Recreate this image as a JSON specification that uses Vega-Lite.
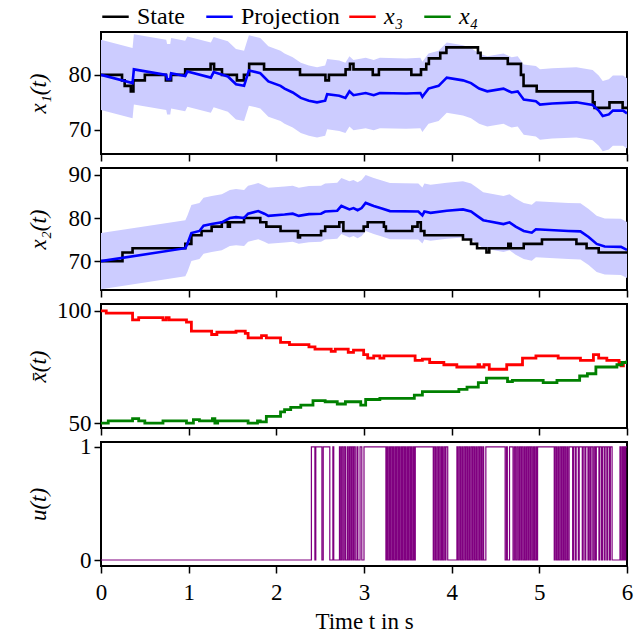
{
  "$schema": "https://vega.github.io/schema/vega-lite/v6.json",
  "padding": {"left": 26, "top": 2, "right": 2, "bottom": 2},
  "config": {
    "view": {"stroke": "black", "strokeWidth": 2},
    "axis": {
      "domain": false, "grid": false, "format": "d",
      "tickColor": "black", "tickWidth": 1.5, "tickSize": 7,
      "labelFontSize": 23, "labelColor": "black", "labelPadding": 3,
      "titleFontSize": 23, "titleFontWeight": "normal", "titleColor": "black"
    },
    "axisX": {"labelFlush": false},
    "legend": {
      "orient": "top", "labelFontSize": 24, "labelColor": "black",
      "symbolType": "stroke", "symbolStrokeWidth": 2.5, "symbolSize": 700,
      "columnPadding": 16, "labelOffset": 7, "offset": 2, "padding": 0
    }
  },
  "datasets": {
    "p1": [
      {"t": 0, "v": 80, "s": "State"}, {"t": 0.24, "v": 79, "s": "State"}, {"t": 0.27, "v": 78, "s": "State"},
      {"t": 0.34, "v": 77, "s": "State"}, {"t": 0.37, "v": 79, "s": "State"}, {"t": 0.5, "v": 80, "s": "State"},
      {"t": 0.74, "v": 79, "s": "State"}, {"t": 0.8, "v": 80, "s": "State"}, {"t": 0.96, "v": 81, "s": "State"},
      {"t": 1.25, "v": 82, "s": "State"}, {"t": 1.29, "v": 81, "s": "State"}, {"t": 1.38, "v": 80, "s": "State"},
      {"t": 1.55, "v": 79, "s": "State"}, {"t": 1.63, "v": 80, "s": "State"}, {"t": 1.69, "v": 82, "s": "State"},
      {"t": 1.86, "v": 81, "s": "State"}, {"t": 2.27, "v": 80, "s": "State"}, {"t": 2.56, "v": 79, "s": "State"},
      {"t": 2.6, "v": 80, "s": "State"}, {"t": 2.79, "v": 81, "s": "State"}, {"t": 2.84, "v": 82, "s": "State"},
      {"t": 2.88, "v": 81, "s": "State"}, {"t": 3.1, "v": 80, "s": "State"}, {"t": 3.17, "v": 81, "s": "State"},
      {"t": 3.54, "v": 80, "s": "State"}, {"t": 3.65, "v": 81, "s": "State"}, {"t": 3.71, "v": 82, "s": "State"},
      {"t": 3.74, "v": 83, "s": "State"}, {"t": 3.87, "v": 84, "s": "State"}, {"t": 3.94, "v": 85, "s": "State"},
      {"t": 4.3, "v": 84, "s": "State"}, {"t": 4.33, "v": 83, "s": "State"}, {"t": 4.64, "v": 82, "s": "State"},
      {"t": 4.79, "v": 80, "s": "State"}, {"t": 4.82, "v": 78, "s": "State"}, {"t": 4.97, "v": 77, "s": "State"},
      {"t": 5.61, "v": 75, "s": "State"}, {"t": 5.63, "v": 74, "s": "State"}, {"t": 5.8, "v": 75, "s": "State"},
      {"t": 5.95, "v": 74, "s": "State"}, {"t": 6.0, "v": 74, "s": "State"},
      {"t": 0, "v": 80.0, "lo": 73.6, "hi": 86.4, "s": "Projection"},
      {"t": 0.36, "v": 78.5, "lo": 72.1, "hi": 84.9, "s": "Projection"},
      {"t": 0.375, "v": 81.0, "lo": 74.6, "hi": 87.4, "s": "Projection"},
      {"t": 0.744, "v": 80.0, "lo": 73.6, "hi": 86.4, "s": "Projection"},
      {"t": 0.754, "v": 79.2, "lo": 72.8, "hi": 85.6, "s": "Projection"},
      {"t": 0.79, "v": 79.2, "lo": 72.8, "hi": 85.6, "s": "Projection"},
      {"t": 0.8, "v": 80.3, "lo": 73.9, "hi": 86.7, "s": "Projection"},
      {"t": 0.96, "v": 79.8, "lo": 73.4, "hi": 86.2, "s": "Projection"},
      {"t": 0.985, "v": 80.6, "lo": 74.2, "hi": 87.0, "s": "Projection"},
      {"t": 1.253, "v": 79.5, "lo": 73.1, "hi": 85.9, "s": "Projection"},
      {"t": 1.285, "v": 80.5, "lo": 74.1, "hi": 86.9, "s": "Projection"},
      {"t": 1.447, "v": 79.7, "lo": 73.3, "hi": 86.1, "s": "Projection"},
      {"t": 1.54, "v": 78.3, "lo": 71.9, "hi": 84.7, "s": "Projection"},
      {"t": 1.632, "v": 78.0, "lo": 71.6, "hi": 84.4, "s": "Projection"},
      {"t": 1.687, "v": 80.8, "lo": 74.4, "hi": 87.2, "s": "Projection"},
      {"t": 1.817, "v": 80.3, "lo": 73.9, "hi": 86.7, "s": "Projection"},
      {"t": 1.909, "v": 78.8, "lo": 72.4, "hi": 85.2, "s": "Projection"},
      {"t": 2.048, "v": 78.0, "lo": 71.6, "hi": 84.4, "s": "Projection"},
      {"t": 2.094, "v": 77.5, "lo": 71.1, "hi": 83.9, "s": "Projection"},
      {"t": 2.187, "v": 76.8, "lo": 70.4, "hi": 83.2, "s": "Projection"},
      {"t": 2.279, "v": 75.8, "lo": 69.4, "hi": 82.2, "s": "Projection"},
      {"t": 2.372, "v": 75.3, "lo": 68.9, "hi": 81.7, "s": "Projection"},
      {"t": 2.464, "v": 75.0, "lo": 68.6, "hi": 81.4, "s": "Projection"},
      {"t": 2.557, "v": 75.3, "lo": 68.9, "hi": 81.7, "s": "Projection"},
      {"t": 2.58, "v": 76.5, "lo": 70.1, "hi": 82.9, "s": "Projection"},
      {"t": 2.718, "v": 76.2, "lo": 69.8, "hi": 82.6, "s": "Projection"},
      {"t": 2.788, "v": 75.8, "lo": 69.4, "hi": 82.2, "s": "Projection"},
      {"t": 2.834, "v": 77.0, "lo": 70.6, "hi": 83.4, "s": "Projection"},
      {"t": 2.88, "v": 76.3, "lo": 69.9, "hi": 82.7, "s": "Projection"},
      {"t": 3.019, "v": 76.7, "lo": 70.3, "hi": 83.1, "s": "Projection"},
      {"t": 3.111, "v": 76.3, "lo": 69.9, "hi": 82.7, "s": "Projection"},
      {"t": 3.181, "v": 76.7, "lo": 70.3, "hi": 83.1, "s": "Projection"},
      {"t": 3.481, "v": 76.6, "lo": 70.2, "hi": 83.0, "s": "Projection"},
      {"t": 3.643, "v": 76.7, "lo": 70.3, "hi": 83.1, "s": "Projection"},
      {"t": 3.666, "v": 76.0, "lo": 69.6, "hi": 82.4, "s": "Projection"},
      {"t": 3.689, "v": 76.5, "lo": 70.1, "hi": 82.9, "s": "Projection"},
      {"t": 3.736, "v": 77.5, "lo": 71.1, "hi": 83.9, "s": "Projection"},
      {"t": 3.851, "v": 78.0, "lo": 71.6, "hi": 84.4, "s": "Projection"},
      {"t": 3.944, "v": 79.5, "lo": 73.1, "hi": 85.9, "s": "Projection"},
      {"t": 4.129, "v": 79.0, "lo": 72.6, "hi": 85.4, "s": "Projection"},
      {"t": 4.221, "v": 78.5, "lo": 72.1, "hi": 84.9, "s": "Projection"},
      {"t": 4.313, "v": 77.5, "lo": 71.1, "hi": 83.9, "s": "Projection"},
      {"t": 4.406, "v": 77.0, "lo": 70.6, "hi": 83.4, "s": "Projection"},
      {"t": 4.591, "v": 77.5, "lo": 71.1, "hi": 83.9, "s": "Projection"},
      {"t": 4.683, "v": 76.8, "lo": 70.4, "hi": 83.2, "s": "Projection"},
      {"t": 4.753, "v": 77.0, "lo": 70.6, "hi": 83.4, "s": "Projection"},
      {"t": 4.822, "v": 75.5, "lo": 69.1, "hi": 81.9, "s": "Projection"},
      {"t": 4.961, "v": 75.2, "lo": 68.8, "hi": 81.6, "s": "Projection"},
      {"t": 5.007, "v": 74.6, "lo": 68.2, "hi": 81.0, "s": "Projection"},
      {"t": 5.146, "v": 74.8, "lo": 68.4, "hi": 81.2, "s": "Projection"},
      {"t": 5.423, "v": 75.0, "lo": 68.6, "hi": 81.4, "s": "Projection"},
      {"t": 5.608, "v": 74.5, "lo": 68.1, "hi": 80.9, "s": "Projection"},
      {"t": 5.677, "v": 73.5, "lo": 67.1, "hi": 79.9, "s": "Projection"},
      {"t": 5.723, "v": 72.5, "lo": 66.1, "hi": 78.9, "s": "Projection"},
      {"t": 5.793, "v": 72.8, "lo": 66.4, "hi": 79.2, "s": "Projection"},
      {"t": 5.839, "v": 73.5, "lo": 67.1, "hi": 79.9, "s": "Projection"},
      {"t": 5.955, "v": 73.5, "lo": 67.1, "hi": 79.9, "s": "Projection"},
      {"t": 6.0, "v": 73.0, "lo": 66.6, "hi": 79.4, "s": "Projection"}
    ],
    "p2": [
      {"t": 0, "v": 70, "s": "State"}, {"t": 0.245, "v": 72, "s": "State"}, {"t": 0.36, "v": 73, "s": "State"},
      {"t": 0.962, "v": 74, "s": "State"}, {"t": 1.031, "v": 76, "s": "State"}, {"t": 1.147, "v": 77, "s": "State"},
      {"t": 1.262, "v": 78, "s": "State"}, {"t": 1.378, "v": 79, "s": "State"}, {"t": 1.447, "v": 78, "s": "State"},
      {"t": 1.47, "v": 79, "s": "State"}, {"t": 1.632, "v": 80, "s": "State"}, {"t": 1.817, "v": 79, "s": "State"},
      {"t": 1.886, "v": 78, "s": "State"}, {"t": 2.048, "v": 77, "s": "State"}, {"t": 2.247, "v": 75.5, "s": "State"},
      {"t": 2.27, "v": 76, "s": "State"}, {"t": 2.51, "v": 77, "s": "State"}, {"t": 2.557, "v": 78, "s": "State"},
      {"t": 2.718, "v": 79, "s": "State"}, {"t": 2.765, "v": 77, "s": "State"}, {"t": 2.996, "v": 78, "s": "State"},
      {"t": 3.042, "v": 79, "s": "State"}, {"t": 3.227, "v": 78, "s": "State"}, {"t": 3.25, "v": 77, "s": "State"},
      {"t": 3.551, "v": 78, "s": "State"}, {"t": 3.611, "v": 79, "s": "State"}, {"t": 3.648, "v": 77, "s": "State"},
      {"t": 3.689, "v": 76, "s": "State"}, {"t": 4.129, "v": 75, "s": "State"}, {"t": 4.221, "v": 74, "s": "State"},
      {"t": 4.29, "v": 73, "s": "State"}, {"t": 4.397, "v": 72, "s": "State"}, {"t": 4.429, "v": 73, "s": "State"},
      {"t": 4.646, "v": 74, "s": "State"}, {"t": 4.674, "v": 73, "s": "State"}, {"t": 4.822, "v": 74, "s": "State"},
      {"t": 5.03, "v": 75, "s": "State"}, {"t": 5.423, "v": 74, "s": "State"}, {"t": 5.539, "v": 73, "s": "State"},
      {"t": 5.677, "v": 72, "s": "State"}, {"t": 6.0, "v": 72, "s": "State"},
      {"t": 0, "v": 70.0, "lo": 63.5, "hi": 76.5, "s": "Projection"},
      {"t": 0.962, "v": 73.0, "lo": 66.5, "hi": 79.5, "s": "Projection"},
      {"t": 0.985, "v": 74.0, "lo": 67.5, "hi": 80.5, "s": "Projection"},
      {"t": 1.031, "v": 76.5, "lo": 70.0, "hi": 83.0, "s": "Projection"},
      {"t": 1.123, "v": 77.0, "lo": 70.5, "hi": 83.5, "s": "Projection"},
      {"t": 1.17, "v": 78.2, "lo": 71.7, "hi": 84.7, "s": "Projection"},
      {"t": 1.262, "v": 78.6, "lo": 72.1, "hi": 85.1, "s": "Projection"},
      {"t": 1.378, "v": 79.0, "lo": 72.5, "hi": 85.5, "s": "Projection"},
      {"t": 1.47, "v": 80.0, "lo": 73.5, "hi": 86.5, "s": "Projection"},
      {"t": 1.54, "v": 80.2, "lo": 73.7, "hi": 86.7, "s": "Projection"},
      {"t": 1.632, "v": 80.0, "lo": 73.5, "hi": 86.5, "s": "Projection"},
      {"t": 1.678, "v": 81.0, "lo": 74.5, "hi": 87.5, "s": "Projection"},
      {"t": 1.794, "v": 81.6, "lo": 75.1, "hi": 88.1, "s": "Projection"},
      {"t": 1.863, "v": 81.0, "lo": 74.5, "hi": 87.5, "s": "Projection"},
      {"t": 1.909, "v": 80.5, "lo": 74.0, "hi": 87.0, "s": "Projection"},
      {"t": 2.094, "v": 80.8, "lo": 74.3, "hi": 87.3, "s": "Projection"},
      {"t": 2.187, "v": 81.0, "lo": 74.5, "hi": 87.5, "s": "Projection"},
      {"t": 2.256, "v": 80.5, "lo": 74.0, "hi": 87.0, "s": "Projection"},
      {"t": 2.372, "v": 80.9, "lo": 74.4, "hi": 87.4, "s": "Projection"},
      {"t": 2.51, "v": 81.0, "lo": 74.5, "hi": 87.5, "s": "Projection"},
      {"t": 2.557, "v": 81.5, "lo": 75.0, "hi": 88.0, "s": "Projection"},
      {"t": 2.695, "v": 81.7, "lo": 75.2, "hi": 88.2, "s": "Projection"},
      {"t": 2.742, "v": 82.8, "lo": 76.3, "hi": 89.3, "s": "Projection"},
      {"t": 2.834, "v": 82.0, "lo": 75.5, "hi": 88.5, "s": "Projection"},
      {"t": 2.88, "v": 82.3, "lo": 75.8, "hi": 88.8, "s": "Projection"},
      {"t": 2.927, "v": 81.8, "lo": 75.3, "hi": 88.3, "s": "Projection"},
      {"t": 2.973, "v": 82.3, "lo": 75.8, "hi": 88.8, "s": "Projection"},
      {"t": 3.019, "v": 83.5, "lo": 77.0, "hi": 90.0, "s": "Projection"},
      {"t": 3.111, "v": 82.8, "lo": 76.3, "hi": 89.3, "s": "Projection"},
      {"t": 3.204, "v": 82.2, "lo": 75.7, "hi": 88.7, "s": "Projection"},
      {"t": 3.296, "v": 81.6, "lo": 75.1, "hi": 88.1, "s": "Projection"},
      {"t": 3.62, "v": 81.5, "lo": 75.0, "hi": 88.0, "s": "Projection"},
      {"t": 3.666, "v": 80.6, "lo": 74.1, "hi": 87.1, "s": "Projection"},
      {"t": 3.689, "v": 81.5, "lo": 75.0, "hi": 88.0, "s": "Projection"},
      {"t": 3.759, "v": 81.2, "lo": 74.7, "hi": 87.7, "s": "Projection"},
      {"t": 3.944, "v": 81.7, "lo": 75.2, "hi": 88.2, "s": "Projection"},
      {"t": 4.129, "v": 82.0, "lo": 75.5, "hi": 88.5, "s": "Projection"},
      {"t": 4.221, "v": 81.5, "lo": 75.0, "hi": 88.0, "s": "Projection"},
      {"t": 4.29, "v": 80.5, "lo": 74.0, "hi": 87.0, "s": "Projection"},
      {"t": 4.36, "v": 79.5, "lo": 73.0, "hi": 86.0, "s": "Projection"},
      {"t": 4.406, "v": 79.3, "lo": 72.8, "hi": 85.8, "s": "Projection"},
      {"t": 4.591, "v": 78.6, "lo": 72.1, "hi": 85.1, "s": "Projection"},
      {"t": 4.66, "v": 79.0, "lo": 72.5, "hi": 85.5, "s": "Projection"},
      {"t": 4.73, "v": 78.0, "lo": 71.5, "hi": 84.5, "s": "Projection"},
      {"t": 4.822, "v": 77.0, "lo": 70.5, "hi": 83.5, "s": "Projection"},
      {"t": 4.914, "v": 76.6, "lo": 70.1, "hi": 83.1, "s": "Projection"},
      {"t": 4.961, "v": 77.4, "lo": 70.9, "hi": 83.9, "s": "Projection"},
      {"t": 5.33, "v": 77.0, "lo": 70.5, "hi": 83.5, "s": "Projection"},
      {"t": 5.469, "v": 76.9, "lo": 70.4, "hi": 83.4, "s": "Projection"},
      {"t": 5.562, "v": 75.6, "lo": 69.1, "hi": 82.1, "s": "Projection"},
      {"t": 5.654, "v": 74.0, "lo": 67.5, "hi": 80.5, "s": "Projection"},
      {"t": 5.746, "v": 73.4, "lo": 66.9, "hi": 79.9, "s": "Projection"},
      {"t": 5.931, "v": 73.3, "lo": 66.8, "hi": 79.8, "s": "Projection"},
      {"t": 6.0, "v": 72.6, "lo": 66.1, "hi": 79.1, "s": "Projection"}
    ],
    "p3": [
      {"t": 0, "v": 100, "s": "x₃"}, {"t": 0.06, "v": 99, "s": "x₃"}, {"t": 0.36, "v": 96, "s": "x₃"},
      {"t": 0.43, "v": 97, "s": "x₃"}, {"t": 0.707, "v": 96, "s": "x₃"}, {"t": 0.744, "v": 97, "s": "x₃"},
      {"t": 0.777, "v": 96, "s": "x₃"}, {"t": 0.975, "v": 95, "s": "x₃"}, {"t": 1.031, "v": 91, "s": "x₃"},
      {"t": 1.262, "v": 89.5, "s": "x₃"}, {"t": 1.322, "v": 90.5, "s": "x₃"}, {"t": 1.54, "v": 91, "s": "x₃"},
      {"t": 1.646, "v": 90, "s": "x₃"}, {"t": 1.678, "v": 88, "s": "x₃"}, {"t": 1.831, "v": 89, "s": "x₃"},
      {"t": 1.886, "v": 88, "s": "x₃"}, {"t": 2.048, "v": 86, "s": "x₃"}, {"t": 2.15, "v": 85, "s": "x₃"},
      {"t": 2.372, "v": 84, "s": "x₃"}, {"t": 2.441, "v": 83, "s": "x₃"}, {"t": 2.626, "v": 82, "s": "x₃"},
      {"t": 2.672, "v": 83, "s": "x₃"}, {"t": 2.82, "v": 81.5, "s": "x₃"}, {"t": 2.88, "v": 82.5, "s": "x₃"},
      {"t": 2.996, "v": 80.5, "s": "x₃"}, {"t": 3.042, "v": 79, "s": "x₃"}, {"t": 3.111, "v": 80, "s": "x₃"},
      {"t": 3.181, "v": 79, "s": "x₃"}, {"t": 3.227, "v": 80, "s": "x₃"}, {"t": 3.583, "v": 78, "s": "x₃"},
      {"t": 3.666, "v": 78.5, "s": "x₃"}, {"t": 3.749, "v": 77, "s": "x₃"}, {"t": 3.911, "v": 76, "s": "x₃"},
      {"t": 4.059, "v": 75, "s": "x₃"}, {"t": 4.3, "v": 76, "s": "x₃"}, {"t": 4.318, "v": 75, "s": "x₃"},
      {"t": 4.369, "v": 76, "s": "x₃"}, {"t": 4.429, "v": 74, "s": "x₃"}, {"t": 4.628, "v": 76, "s": "x₃"},
      {"t": 4.808, "v": 79, "s": "x₃"}, {"t": 4.961, "v": 80, "s": "x₃"}, {"t": 5.215, "v": 79, "s": "x₃"},
      {"t": 5.469, "v": 78, "s": "x₃"}, {"t": 5.617, "v": 80.5, "s": "x₃"}, {"t": 5.677, "v": 79, "s": "x₃"},
      {"t": 5.77, "v": 78, "s": "x₃"}, {"t": 5.909, "v": 77, "s": "x₃"}, {"t": 5.932, "v": 75.5, "s": "x₃"},
      {"t": 5.959, "v": 77, "s": "x₃"}, {"t": 6.0, "v": 77, "s": "x₃"},
      {"t": 0, "v": 50, "s": "x₄"}, {"t": 0.083, "v": 51, "s": "x₄"}, {"t": 0.36, "v": 52, "s": "x₄"},
      {"t": 0.43, "v": 51, "s": "x₄"}, {"t": 0.5, "v": 50, "s": "x₄"}, {"t": 0.707, "v": 51, "s": "x₄"},
      {"t": 0.975, "v": 50, "s": "x₄"}, {"t": 1.054, "v": 51.5, "s": "x₄"}, {"t": 1.123, "v": 51, "s": "x₄"},
      {"t": 1.271, "v": 52, "s": "x₄"}, {"t": 1.299, "v": 50, "s": "x₄"}, {"t": 1.331, "v": 51, "s": "x₄"},
      {"t": 1.678, "v": 50, "s": "x₄"}, {"t": 1.785, "v": 51, "s": "x₄"}, {"t": 1.817, "v": 50.5, "s": "x₄"},
      {"t": 1.886, "v": 53, "s": "x₄"}, {"t": 2.048, "v": 55, "s": "x₄"}, {"t": 2.094, "v": 56, "s": "x₄"},
      {"t": 2.164, "v": 57, "s": "x₄"}, {"t": 2.279, "v": 58, "s": "x₄"}, {"t": 2.418, "v": 60, "s": "x₄"},
      {"t": 2.557, "v": 59.5, "s": "x₄"}, {"t": 2.695, "v": 58.5, "s": "x₄"}, {"t": 2.788, "v": 59.5, "s": "x₄"},
      {"t": 2.963, "v": 58, "s": "x₄"}, {"t": 3.019, "v": 60.5, "s": "x₄"}, {"t": 3.181, "v": 61, "s": "x₄"},
      {"t": 3.574, "v": 62.5, "s": "x₄"}, {"t": 3.666, "v": 64, "s": "x₄"}, {"t": 4.082, "v": 65, "s": "x₄"},
      {"t": 4.175, "v": 66, "s": "x₄"}, {"t": 4.304, "v": 68, "s": "x₄"}, {"t": 4.397, "v": 70, "s": "x₄"},
      {"t": 4.637, "v": 68.5, "s": "x₄"}, {"t": 4.693, "v": 69, "s": "x₄"}, {"t": 5.044, "v": 68, "s": "x₄"},
      {"t": 5.201, "v": 69, "s": "x₄"}, {"t": 5.46, "v": 71, "s": "x₄"}, {"t": 5.548, "v": 72, "s": "x₄"},
      {"t": 5.645, "v": 75, "s": "x₄"}, {"t": 5.885, "v": 76, "s": "x₄"}, {"t": 5.945, "v": 77, "s": "x₄"},
      {"t": 6.0, "v": 78, "s": "x₄"}
    ],
    "u": [
      {"t": 0, "u": 0}, {"t": 2.4, "u": 1}, {"t": 2.44, "u": 0}, {"t": 2.45, "u": 1}, {"t": 2.52, "u": 0},
      {"t": 2.535, "u": 1}, {"t": 2.61, "u": 0}, {"t": 2.645, "u": 1}, {"t": 2.655, "u": 0}, {"t": 2.72, "u": 1},
      {"t": 2.73, "u": 0}, {"t": 2.745, "u": 1}, {"t": 2.76, "u": 0}, {"t": 2.775, "u": 1}, {"t": 2.79, "u": 0},
      {"t": 2.81, "u": 1}, {"t": 2.82, "u": 0}, {"t": 2.835, "u": 1}, {"t": 2.85, "u": 0}, {"t": 2.86, "u": 1},
      {"t": 2.875, "u": 0}, {"t": 2.885, "u": 1}, {"t": 2.9, "u": 0}, {"t": 2.92, "u": 1}, {"t": 2.93, "u": 0},
      {"t": 2.955, "u": 1}, {"t": 2.975, "u": 0}, {"t": 3.0, "u": 1}, {"t": 3.25, "u": 0}, {"t": 3.26, "u": 1},
      {"t": 3.27, "u": 0}, {"t": 3.285, "u": 1}, {"t": 3.295, "u": 0}, {"t": 3.305, "u": 1}, {"t": 3.32, "u": 0},
      {"t": 3.33, "u": 1}, {"t": 3.34, "u": 0}, {"t": 3.355, "u": 1}, {"t": 3.365, "u": 0}, {"t": 3.375, "u": 1},
      {"t": 3.39, "u": 0}, {"t": 3.4, "u": 1}, {"t": 3.41, "u": 0}, {"t": 3.425, "u": 1}, {"t": 3.435, "u": 0},
      {"t": 3.445, "u": 1}, {"t": 3.46, "u": 0}, {"t": 3.47, "u": 1}, {"t": 3.48, "u": 0}, {"t": 3.495, "u": 1},
      {"t": 3.505, "u": 0}, {"t": 3.515, "u": 1}, {"t": 3.53, "u": 0}, {"t": 3.54, "u": 1}, {"t": 3.55, "u": 0},
      {"t": 3.565, "u": 1}, {"t": 3.575, "u": 0}, {"t": 3.585, "u": 1}, {"t": 3.79, "u": 0}, {"t": 3.8, "u": 1},
      {"t": 3.815, "u": 0}, {"t": 3.83, "u": 1}, {"t": 3.845, "u": 0}, {"t": 3.855, "u": 1}, {"t": 3.87, "u": 0},
      {"t": 3.885, "u": 1}, {"t": 3.895, "u": 0}, {"t": 3.91, "u": 1}, {"t": 3.925, "u": 0}, {"t": 3.935, "u": 1},
      {"t": 3.955, "u": 0}, {"t": 4.06, "u": 1}, {"t": 4.07, "u": 0}, {"t": 4.085, "u": 1}, {"t": 4.1, "u": 0},
      {"t": 4.115, "u": 1}, {"t": 4.125, "u": 0}, {"t": 4.14, "u": 1}, {"t": 4.155, "u": 0}, {"t": 4.165, "u": 1},
      {"t": 4.18, "u": 0}, {"t": 4.195, "u": 1}, {"t": 4.205, "u": 0}, {"t": 4.22, "u": 1}, {"t": 4.235, "u": 0},
      {"t": 4.245, "u": 1}, {"t": 4.26, "u": 0}, {"t": 4.275, "u": 1}, {"t": 4.285, "u": 0}, {"t": 4.3, "u": 1},
      {"t": 4.315, "u": 0}, {"t": 4.325, "u": 1}, {"t": 4.34, "u": 0}, {"t": 4.355, "u": 1}, {"t": 4.365, "u": 0},
      {"t": 4.39, "u": 1}, {"t": 4.61, "u": 0}, {"t": 4.625, "u": 1}, {"t": 4.635, "u": 0}, {"t": 4.66, "u": 1},
      {"t": 4.7, "u": 0}, {"t": 4.715, "u": 1}, {"t": 4.73, "u": 0}, {"t": 4.745, "u": 1}, {"t": 4.76, "u": 0},
      {"t": 4.775, "u": 1}, {"t": 4.79, "u": 0}, {"t": 4.8, "u": 1}, {"t": 4.815, "u": 0}, {"t": 4.83, "u": 1},
      {"t": 4.84, "u": 0}, {"t": 4.855, "u": 1}, {"t": 4.87, "u": 0}, {"t": 4.88, "u": 1}, {"t": 4.895, "u": 0},
      {"t": 4.905, "u": 1}, {"t": 4.92, "u": 0}, {"t": 4.935, "u": 1}, {"t": 4.945, "u": 0}, {"t": 4.96, "u": 1},
      {"t": 4.97, "u": 0}, {"t": 4.98, "u": 1}, {"t": 5.17, "u": 0}, {"t": 5.18, "u": 1}, {"t": 5.195, "u": 0},
      {"t": 5.21, "u": 1}, {"t": 5.22, "u": 0}, {"t": 5.235, "u": 1}, {"t": 5.25, "u": 0}, {"t": 5.26, "u": 1},
      {"t": 5.275, "u": 0}, {"t": 5.285, "u": 1}, {"t": 5.3, "u": 0}, {"t": 5.315, "u": 1}, {"t": 5.325, "u": 0},
      {"t": 5.34, "u": 1}, {"t": 5.38, "u": 0}, {"t": 5.39, "u": 1}, {"t": 5.41, "u": 0}, {"t": 5.42, "u": 1},
      {"t": 5.445, "u": 0}, {"t": 5.455, "u": 1}, {"t": 5.49, "u": 0}, {"t": 5.5, "u": 1}, {"t": 5.52, "u": 0},
      {"t": 5.53, "u": 1}, {"t": 5.555, "u": 0}, {"t": 5.565, "u": 1}, {"t": 5.58, "u": 0}, {"t": 5.59, "u": 1},
      {"t": 5.61, "u": 0}, {"t": 5.625, "u": 1}, {"t": 5.64, "u": 0}, {"t": 5.65, "u": 1}, {"t": 5.68, "u": 0},
      {"t": 5.69, "u": 1}, {"t": 5.71, "u": 0}, {"t": 5.72, "u": 1}, {"t": 5.74, "u": 0}, {"t": 5.75, "u": 1},
      {"t": 5.77, "u": 0}, {"t": 5.78, "u": 1}, {"t": 5.8, "u": 0}, {"t": 5.81, "u": 1}, {"t": 5.83, "u": 0},
      {"t": 5.92, "u": 1}, {"t": 5.93, "u": 0}, {"t": 5.945, "u": 1}, {"t": 5.955, "u": 0}, {"t": 5.965, "u": 1},
      {"t": 5.975, "u": 0}, {"t": 5.985, "u": 1}, {"t": 6.0, "u": 1}
    ]
  },
  "spacing": 14,
  "bounds": "flush",
  "resolve": {"scale": {"color": "shared", "stroke": "shared"}, "legend": {"color": "shared", "stroke": "shared"}},
  "vconcat": [
    {
      "width": 526, "height": 122,
      "data": {"name": "p1"},
      "layer": [
        {
          "transform": [{"filter": "datum.s == 'Projection'"}],
          "mark": {"type": "area", "color": "#ccccff", "clip": true},
          "encoding": {
            "x": {"field": "t", "type": "quantitative", "scale": {"domain": [0, 6], "nice": false}, "axis": {"values": [0, 1, 2, 3, 4, 5, 6], "labels": false, "title": null}},
            "y": {"field": "lo", "type": "quantitative", "scale": {"domain": [65.6, 87.8], "nice": false, "zero": false}, "axis": {"values": [70, 80], "labelFont": "serif", "title": "x₁(t)", "titleFont": "serif", "titleFontStyle": "italic", "titleX": -63, "titleBaseline": "middle"}},
            "y2": {"field": "hi"}
          }
        },
        {
          "transform": [{"filter": "datum.s == 'State'"}],
          "mark": {"type": "line", "interpolate": "step-after", "strokeWidth": 2.6, "clip": true},
          "encoding": {
            "x": {"field": "t", "type": "quantitative", "scale": {"domain": [0, 6], "nice": false}},
            "y": {"field": "v", "type": "quantitative", "scale": {"domain": [65.6, 87.8], "nice": false, "zero": false}},
            "color": {"field": "s", "type": "nominal", "title": null, "legend": {"labelFont": "serif"}, "scale": {"domain": ["State", "Projection"], "range": ["#000000", "#0000ff"]}}
          }
        },
        {
          "transform": [{"filter": "datum.s == 'Projection'"}],
          "mark": {"type": "line", "strokeWidth": 2.6, "clip": true},
          "encoding": {
            "x": {"field": "t", "type": "quantitative", "scale": {"domain": [0, 6], "nice": false}},
            "y": {"field": "v", "type": "quantitative", "scale": {"domain": [65.6, 87.8], "nice": false, "zero": false}},
            "color": {"field": "s", "type": "nominal", "title": null, "legend": {"labelFont": "serif"}, "scale": {"domain": ["State", "Projection"], "range": ["#000000", "#0000ff"]}}
          }
        }
      ]
    },
    {
      "width": 526, "height": 122,
      "data": {"name": "p2"},
      "layer": [
        {
          "transform": [{"filter": "datum.s == 'Projection'"}],
          "mark": {"type": "area", "color": "#ccccff", "clip": true},
          "encoding": {
            "x": {"field": "t", "type": "quantitative", "scale": {"domain": [0, 6], "nice": false}, "axis": {"values": [0, 1, 2, 3, 4, 5, 6], "labels": false, "title": null}},
            "y": {"field": "lo", "type": "quantitative", "scale": {"domain": [63.3, 91.6], "nice": false, "zero": false}, "axis": {"values": [70, 80, 90], "labelFont": "serif", "title": "x₂(t)", "titleFont": "serif", "titleFontStyle": "italic", "titleX": -63, "titleBaseline": "middle"}},
            "y2": {"field": "hi"}
          }
        },
        {
          "transform": [{"filter": "datum.s == 'State'"}],
          "mark": {"type": "line", "interpolate": "step-after", "strokeWidth": 2.6, "clip": true},
          "encoding": {
            "x": {"field": "t", "type": "quantitative", "scale": {"domain": [0, 6], "nice": false}},
            "y": {"field": "v", "type": "quantitative", "scale": {"domain": [63.3, 91.6], "nice": false, "zero": false}},
            "color": {"field": "s", "type": "nominal", "title": null, "legend": {"labelFont": "serif"}, "scale": {"domain": ["State", "Projection"], "range": ["#000000", "#0000ff"]}}
          }
        },
        {
          "transform": [{"filter": "datum.s == 'Projection'"}],
          "mark": {"type": "line", "strokeWidth": 2.6, "clip": true},
          "encoding": {
            "x": {"field": "t", "type": "quantitative", "scale": {"domain": [0, 6], "nice": false}},
            "y": {"field": "v", "type": "quantitative", "scale": {"domain": [63.3, 91.6], "nice": false, "zero": false}},
            "color": {"field": "s", "type": "nominal", "title": null, "legend": {"labelFont": "serif"}, "scale": {"domain": ["State", "Projection"], "range": ["#000000", "#0000ff"]}}
          }
        }
      ]
    },
    {
      "width": 526, "height": 124,
      "data": {"name": "p3"},
      "mark": {"type": "line", "interpolate": "step-after", "strokeWidth": 2.8, "clip": true},
      "encoding": {
        "x": {"field": "t", "type": "quantitative", "scale": {"domain": [0, 6], "nice": false}, "axis": {"values": [0, 1, 2, 3, 4, 5, 6], "labels": false, "title": null}},
        "y": {"field": "v", "type": "quantitative", "scale": {"domain": [47.8, 103.1], "nice": false, "zero": false}, "axis": {"values": [50, 100], "labelFont": "serif", "title": "x̄(t)", "titleFont": "serif", "titleFontStyle": "italic", "titleX": -63, "titleBaseline": "middle"}},
        "stroke": {"field": "s", "type": "nominal", "title": null, "legend": {"labelFont": "serif", "labelFontStyle": "italic"}, "scale": {"domain": ["x₃", "x₄"], "range": ["#ff0000", "#008000"]}}
      }
    },
    {
      "width": 526, "height": 124,
      "data": {"name": "u"},
      "mark": {"type": "line", "interpolate": "step-after", "strokeWidth": 1.2, "color": "#800080", "clip": true},
      "encoding": {
        "x": {"field": "t", "type": "quantitative", "scale": {"domain": [0, 6], "nice": false}, "axis": {"values": [0, 1, 2, 3, 4, 5, 6], "labelFont": "serif", "labelPadding": 8, "title": "Time t in s", "titleFont": "serif", "titlePadding": 6}},
        "y": {"field": "u", "type": "quantitative", "scale": {"domain": [-0.053, 1.044], "nice": false, "zero": false}, "axis": {"values": [0, 1], "labelFont": "serif", "title": "u(t)", "titleFont": "serif", "titleFontStyle": "italic", "titleX": -63, "titleBaseline": "middle"}}
      }
    }
  ]
}
